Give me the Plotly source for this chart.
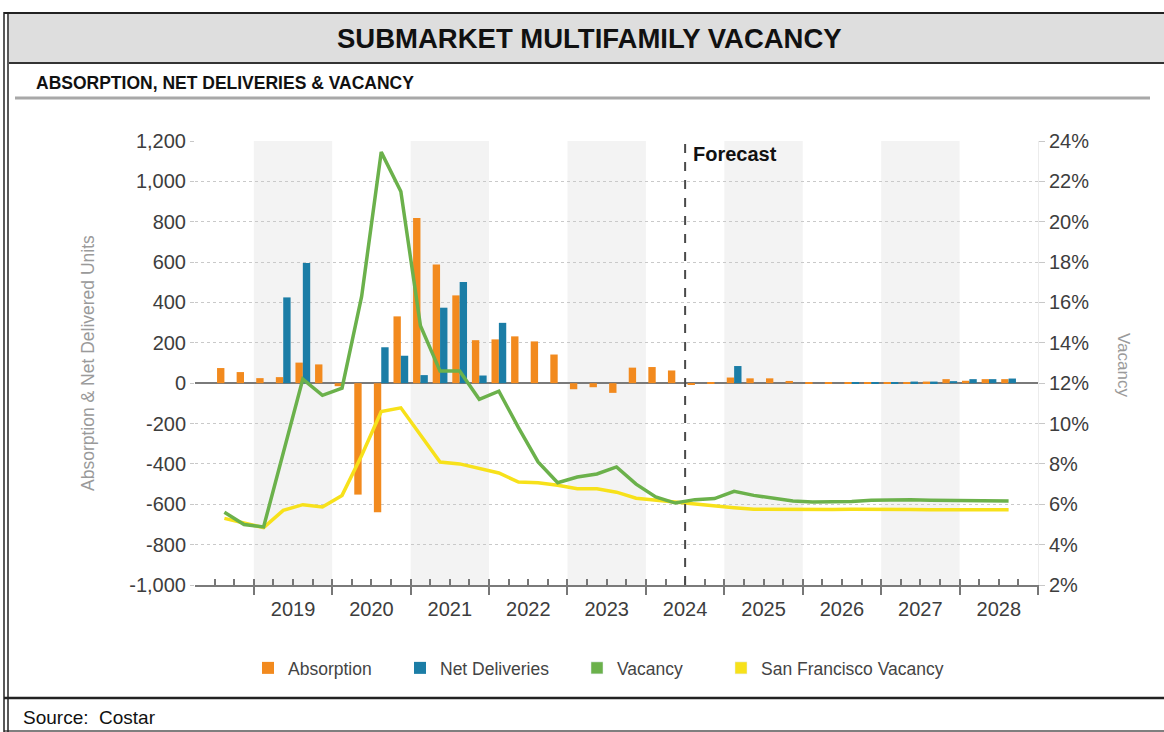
import plotly.graph_objects as go

# ---------------- data ----------------
quarters = [
    "2018 Q3", "2018 Q4",
    "2019 Q1", "2019 Q2", "2019 Q3", "2019 Q4",
    "2020 Q1", "2020 Q2", "2020 Q3", "2020 Q4",
    "2021 Q1", "2021 Q2", "2021 Q3", "2021 Q4",
    "2022 Q1", "2022 Q2", "2022 Q3", "2022 Q4",
    "2023 Q1", "2023 Q2", "2023 Q3", "2023 Q4",
    "2024 Q1", "2024 Q2", "2024 Q3", "2024 Q4",
    "2025 Q1", "2025 Q2", "2025 Q3", "2025 Q4",
    "2026 Q1", "2026 Q2", "2026 Q3", "2026 Q4",
    "2027 Q1", "2027 Q2", "2027 Q3", "2027 Q4",
    "2028 Q1", "2028 Q2", "2028 Q3",
]
absorption = [
    75, 55,
    25, 30, 102, 93,
    -15, -552, -640, 331,
    818, 588, 435, 213,
    217, 232, 207, 142,
    -30, -20, -48, 77,
    80, 63, -6, 3,
    28, 24, 24, 11,
    5, 3, 2, 2,
    3, 6, 8, 20,
    12, 20, 20,
]
net_deliveries = [
    0, 0,
    0, 425, 595, 0,
    0, 0, 178, 136,
    40, 374, 501, 38,
    299, 0, 0, 0,
    0, 0, 0, 0,
    0, 0, 0, 0,
    85, 0, 0, 0,
    0, 0, 1, 3,
    6, 8, 8, 10,
    20, 20, 23,
]
vacancy = [
    5.6, 5.0,
    4.88, 8.6, 12.2, 11.4,
    11.75, 16.3, 23.45, 21.5,
    14.85, 12.6, 12.6, 11.2,
    11.6, 9.8, 8.1, 7.07,
    7.35, 7.5, 7.85, 7.0,
    6.36, 6.06, 6.23, 6.28,
    6.64, 6.44, 6.28, 6.16,
    6.11, 6.11, 6.14, 6.2,
    6.23, 6.23, 6.2, 6.18,
    6.16, 6.16, 6.16,
]
sf_vacancy = [
    5.3, 5.07,
    4.84, 5.7, 5.98, 5.87,
    6.44, 8.42, 10.6, 10.78,
    9.4, 8.09, 8.0, 7.76,
    7.55, 7.1, 7.07, 6.94,
    6.77, 6.77, 6.6, 6.3,
    6.2, 6.11, 6.0, 5.9,
    5.83, 5.75, 5.74, 5.74,
    5.74, 5.74, 5.75, 5.76,
    5.75, 5.74, 5.73, 5.73,
    5.73, 5.73, 5.73,
]
years = [2019, 2020, 2021, 2022, 2023, 2024, 2025, 2026, 2027, 2028]
shaded_years = [2019, 2021, 2023, 2025, 2027]
forecast_start = "2024 Q3"

left_ticks = [-1000, -800, -600, -400, -200, 0, 200, 400, 600, 800, 1000, 1200]
right_ticks = [2, 4, 6, 8, 10, 12, 14, 16, 18, 20, 22, 24]

# ---------------- helpers ----------------
def qpos(label):
    y, q = label.split(" Q")
    return int(y) + (int(q) - 0.5) / 4.0

def qstart(label):
    y, q = label.split(" Q")
    return int(y) + (int(q) - 1) / 4.0

xq = [qpos(q) for q in quarters]
X_RANGE = [2018.25, 2029.0]

# quarter boundaries for the small ticks; year label sits at the mid-year boundary
q_bounds = [2018.25 + 0.25 * i for i in range(44)]
q_text = []
for b in q_bounds:
    yr = int(b)
    q_text.append(str(yr) if (abs(b - yr - 0.5) < 1e-9 and yr in years) else "")

W, H = 1164, 732
L, R, T, B = 195, 1038, 141, 585

def px(x):
    return (x - L) / (R - L)

def py(y):
    return (B - y) / (B - T)

ORANGE = "#F28A1E"
BLUE = "#1B7DA6"
GREEN = "#6BB14B"
YELLOW = "#F7E11A"
FONT = "Liberation Sans, Arial, sans-serif"
TXT = "#3d3d3d"

fig = go.Figure()

BW = 0.094
fig.add_trace(go.Bar(x=xq, y=absorption, name="Absorption", marker_color=ORANGE,
                     marker_line_width=0, width=BW, offset=-BW, legend="legend"))
fig.add_trace(go.Bar(x=xq, y=net_deliveries, name="Net Deliveries", marker_color=BLUE,
                     marker_line_width=0, width=BW, offset=0, legend="legend2"))
# legend swatches (square) for the line series
fig.add_trace(go.Bar(x=[None], y=[None], name="Vacancy", marker_color=GREEN, legend="legend3"))
fig.add_trace(go.Bar(x=[None], y=[None], name="San Francisco Vacancy", marker_color=YELLOW, legend="legend4"))

fig.add_trace(go.Scatter(x=xq, y=sf_vacancy, mode="lines", name="San Francisco Vacancy",
                         line=dict(color=YELLOW, width=3.5), xaxis="x2", yaxis="y2", showlegend=False))
fig.add_trace(go.Scatter(x=xq, y=vacancy, mode="lines", name="Vacancy",
                         line=dict(color=GREEN, width=3.5), xaxis="x2", yaxis="y2", showlegend=False))

shapes = []
for yr in shaded_years:
    shapes.append(dict(type="rect", xref="x", yref="paper", x0=yr, x1=yr + 1, y0=0, y1=1,
                       fillcolor="#f3f3f3", line_width=0, layer="below"))
fx = qstart(forecast_start)
shapes.append(dict(type="line", xref="x", yref="paper", x0=fx, x1=fx, y0=0, y1=1,
                   line=dict(color="#4a4a4a", width=2, dash="dash")))

def hline(y, x0, x1, color, width):
    return dict(type="line", xref="paper", yref="paper", x0=px(x0), x1=px(x1), y0=py(y), y1=py(y),
                line=dict(color=color, width=width))

def vline(x, y0, y1, color, width):
    return dict(type="line", xref="paper", yref="paper", x0=px(x), x1=px(x), y0=py(y0), y1=py(y1),
                line=dict(color=color, width=width))

shapes.append(dict(type="rect", xref="paper", yref="paper", x0=px(9), x1=px(1170), y0=py(62), y1=py(14),
                   fillcolor="#dedede", line_width=0, layer="below"))
shapes.append(hline(13, 4, 1170, "#222", 2))
shapes.append(hline(63, 9, 1170, "#333", 2))
shapes.append(hline(98, 15, 1150, "#a8a8a8", 3))
shapes.append(hline(698, 4, 1170, "#222", 2.5))
shapes.append(hline(731, 4, 1170, "#555", 1.5))
shapes.append(vline(4, 12, 740, "#222", 1.5))
shapes.append(vline(8, 12, 740, "#222", 1.5))

annotations = [
    dict(text="<b>SUBMARKET MULTIFAMILY VACANCY</b>", xref="paper", yref="paper",
         x=px(589), y=py(38), showarrow=False, xanchor="center", yanchor="middle",
         font=dict(family=FONT, size=27.5, color="#111")),
    dict(text="<b>ABSORPTION, NET DELIVERIES &amp; VACANCY</b>", xref="paper", yref="paper",
         x=px(34), y=py(83), showarrow=False, xanchor="left", yanchor="middle",
         font=dict(family=FONT, size=17.5, color="#111")),
    dict(text="<b>Forecast</b>", xref="x", yref="paper", x=fx, y=py(154), xshift=6,
         showarrow=False, xanchor="left", yanchor="middle",
         font=dict(family=FONT, size=20, color="#111")),
    dict(text="Absorption &amp; Net Delivered Units", xref="paper", yref="paper",
         x=px(88), y=py(363), textangle=-90, showarrow=False, xanchor="center", yanchor="middle",
         font=dict(family=FONT, size=17.5, color="#9a9a9a")),
    dict(text="Vacancy", xref="paper", yref="paper",
         x=px(1124), y=py(365), textangle=90, showarrow=False, xanchor="center", yanchor="middle",
         font=dict(family=FONT, size=17, color="#9a9a9a")),
    dict(text="Source:  Costar", xref="paper", yref="paper",
         x=px(21), y=py(717), showarrow=False, xanchor="left", yanchor="middle",
         font=dict(family=FONT, size=19, color="#111")),
]

legend_common = dict(orientation="h", yanchor="middle", xanchor="left", bgcolor="rgba(0,0,0,0)",
                     font=dict(family=FONT, size=17.5, color="#444"), itemclick=False)
leg_y = py(668)

fig.update_layout(
    width=W, height=H,
    margin=dict(l=L, r=W - R, t=T, b=H - B, pad=0),
    paper_bgcolor="white", plot_bgcolor="rgba(0,0,0,0)",
    barmode="overlay",
    font=dict(family=FONT, color=TXT),
    showlegend=True,
    legend=dict(legend_common, x=px(248), y=leg_y),
    legend2=dict(legend_common, x=px(400), y=leg_y),
    legend3=dict(legend_common, x=px(577), y=leg_y),
    legend4=dict(legend_common, x=px(721), y=leg_y),
    xaxis=dict(range=X_RANGE, tickmode="array", tickvals=years + [2029],
               showticklabels=False, ticks="outside", ticklen=8, tickwidth=2, tickcolor="#777",
               showline=True, linecolor="#7a7a7a", linewidth=2, showgrid=False, zeroline=False),
    xaxis2=dict(range=X_RANGE, overlaying="x", anchor="y2", side="bottom", tickmode="array",
                tickvals=q_bounds, ticktext=q_text,
                ticks="inside", ticklen=6, tickwidth=1.5, tickcolor="#777",
                ticklabelstandoff=10,
                showline=False, showgrid=False, zeroline=False,
                tickfont=dict(family=FONT, size=20, color=TXT)),
    yaxis=dict(range=[-1000, 1200], tickmode="array", tickvals=left_ticks,
               ticktext=[f"{v:,}" for v in left_ticks], ticks="outside", ticklen=4, tickcolor="#c8c8c8",
               showgrid=True, gridcolor="#c9c9c9", griddash="dot", gridwidth=1,
               zeroline=True, zerolinecolor="#7a7a7a", zerolinewidth=2,
               showline=False, tickfont=dict(family=FONT, size=20, color=TXT)),
    yaxis2=dict(range=[2, 24], overlaying="y", side="right", anchor="x2", tickmode="array",
                tickvals=right_ticks, ticktext=[f"{v}%" for v in right_ticks],
                ticks="outside", ticklen=6, tickcolor="#c8c8c8",
                showgrid=False, zeroline=False, showline=True, linecolor="#ececec", linewidth=1,
                tickfont=dict(family=FONT, size=20, color=TXT)),
    shapes=shapes,
    annotations=annotations,
)

fig.write_html("out.html", config={"displayModeBar": False},
               post_script="document.body.style.margin='0px';")
